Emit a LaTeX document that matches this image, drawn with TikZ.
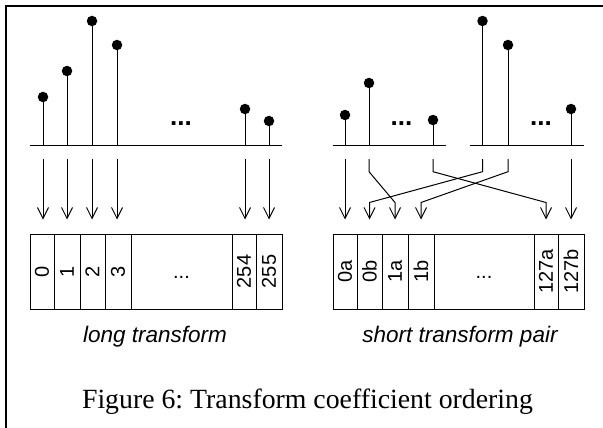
\documentclass[tikz,border=0pt]{standalone}
\usepackage{fontspec}
\usepackage{graphicx}
\setmainfont{Liberation Serif}
\newfontfamily\arialfont{Liberation Sans}
\usetikzlibrary{arrows.meta,calc}
\frenchspacing
\begin{document}
\begin{tikzpicture}[x=1pt,y=-1pt,line width=1pt,
  dot/.style={circle,fill,inner sep=0pt,minimum size=10.5pt},
  cell/.style={draw,inner sep=0pt,minimum height=75pt,font=\arialfont\fontsize{20}{20}\selectfont},
  arr/.style={-{Straight Barb[length=11pt,width=11pt]}},
  vgap/.style={shorten <=14pt,shorten >=14pt},
  capt/.style={anchor=base,font=\arialfont\itshape\fontsize{22.5}{22.5}\selectfont},
  ell/.style={anchor=base,font=\arialfont\bfseries\fontsize{26}{26}\selectfont},
  frame/.style={line width=2pt}]
\useasboundingbox (0,0) rectangle (603,428);
% frame (only top and left edges visible)
\coordinate (fr) at (6,6);
\coordinate (frR) at (603,6);
\coordinate (frB) at (6,428);
\draw[frame] (frR) -- (fr) -- (frB);

% ---------- long transform ----------
\coordinate (bL1) at (30,145);
\coordinate (bL2) at (282,145);
\draw (bL1) -- (bL2);
\foreach \n/\x/\y in {0/43/97,1/67/71,2/92/21,3/117/45,254/245/109,255/269/121}{
  \coordinate (fL\n) at (\x,145);
  \node[dot] (pL\n) at (\x,\y) {};
  \draw (fL\n) -- (pL\n.center);
}
\node[ell] (eL) at (181,125) {...};

\node[cell,minimum width=24pt] (cL0) at (42,271.5) {\rotatebox{90}{0}};
\node[cell,minimum width=26pt] (cL1) at (67,271.5) {\rotatebox{90}{1}};
\node[cell,minimum width=25pt] (cL2) at (92.5,271.5) {\rotatebox{90}{2}};
\node[cell,minimum width=26pt] (cL3) at (118,271.5) {\rotatebox{90}{3}};
\node[cell,minimum width=101pt] (cLd) at (181.5,271.5) {\vphantom{0}...};
\node[cell,minimum width=24pt] (cL254) at (244,271.5) {\rotatebox{90}{254}};
\node[cell,minimum width=26pt] (cL255) at (269,271.5) {\rotatebox{90}{255}};

\foreach \n in {0,1,2,3,254,255}{
  \draw[arr,vgap] (fL\n) -- (fL\n |- cL\n.north);
}
\node[capt] (capL) at (155,342) {long transform};

% ---------- short transform pair ----------
\coordinate (bA1) at (333,145);
\coordinate (bA2) at (446,145);
\draw (bA1) -- (bA2);
\coordinate (bB1) at (470,145);
\coordinate (bB2) at (584,145);
\draw (bB1) -- (bB2);
\foreach \n/\x/\y in {0/345/115,1/369/83,127/433/120}{
  \coordinate (fA\n) at (\x,145);
  \node[dot] (pA\n) at (\x,\y) {};
  \draw (fA\n) -- (pA\n.center);
}
\foreach \n/\x/\y in {0/482.5/21,1/508/45,127/571/109}{
  \coordinate (fB\n) at (\x,145);
  \node[dot] (pB\n) at (\x,\y) {};
  \draw (fB\n) -- (pB\n.center);
}
\node[ell] (eA) at (401.5,125) {...};
\node[ell] (eB) at (541,125) {...};

\node[cell,minimum width=24pt] (c0a) at (345,271.5) {\rotatebox{90}{0a}};
\node[cell,minimum width=25pt] (c0b) at (369.5,271.5) {\rotatebox{90}{0b}};
\node[cell,minimum width=26pt] (c1a) at (395,271.5) {\rotatebox{90}{1a}};
\node[cell,minimum width=26pt] (c1b) at (421,271.5) {\rotatebox{90}{1b}};
\node[cell,minimum width=100pt] (cRd) at (484,271.5) {\vphantom{0}...};
\node[cell,minimum width=24pt] (c127a) at (546,271.5) {\rotatebox{90}{127a}};
\node[cell,minimum width=26pt] (c127b) at (571,271.5) {\rotatebox{90}{127b}};

\draw[arr,vgap] (fA0) -- (fA0 |- c0a.north);
\draw[arr,vgap] (fB127) -- (fB127 |- c127b.north);
\draw[arr] ($(fA1)+(0,14)$) -- ($(fA1)+(0,26.7)$) -- ($(c1a.north)+(0,-31)$) -- ($(c1a.north)+(0,-14)$);
\draw[arr] ($(fA127)+(0,14)$) -- ($(fA127)+(0,26.7)$) -- ($(c127a.north)+(0,-31)$) -- ($(c127a.north)+(0,-14)$);
\draw[arr] ($(fB0)+(0,14)$) -- ($(fB0)+(0,26.7)$) -- ($(c0b.north)+(0,-31)$) -- ($(c0b.north)+(0,-14)$);
\draw[arr] ($(fB1)+(0,14)$) -- ($(fB1)+(0,26.7)$) -- ($(c1b.north)+(0,-31)$) -- ($(c1b.north)+(0,-14)$);

\node[capt] (capR) at (460,342) {short transform pair};

% ---------- figure caption ----------
\node[anchor=base,font=\fontsize{27.8}{27.8}\selectfont] (fig) at (307.5,408) {Figure 6: Transform coefficient ordering};
\end{tikzpicture}
\end{document}
